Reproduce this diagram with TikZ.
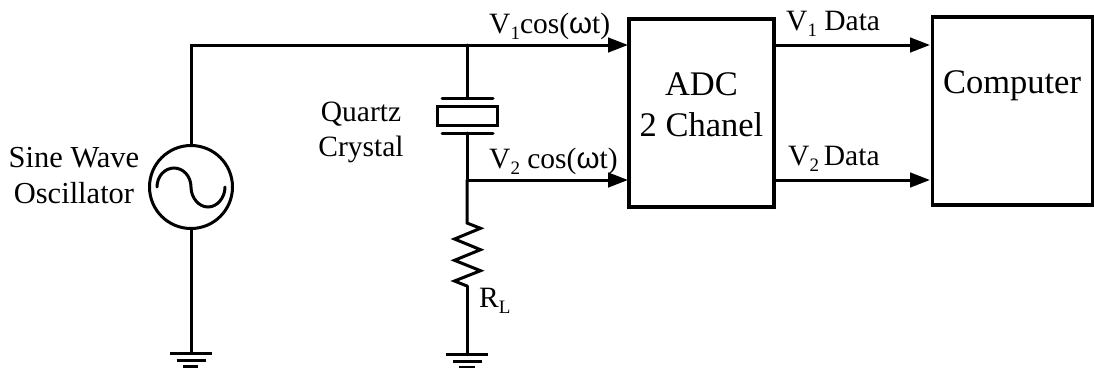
\documentclass[tikz,border=0pt]{standalone}
\usepackage{fontspec}
\setmainfont{Liberation Serif}
\usetikzlibrary{arrows.meta}
\newcommand{\subn}[1]{\raisebox{-0.22em}{\fontsize{19}{19}\selectfont #1}}
\newfontfamily\omegafont{Liberation Sans}
\tikzset{
  wire/.style={line width=3pt,black,line cap=round},
  flow/.style={line width=3pt,black,-{Triangle[length=20pt,width=14.5pt]}},
  blockbox/.style={draw,line width=3.2pt,inner sep=0pt,rectangle},
  lab/.style={inner sep=0pt,anchor=base west,font=\fontsize{29.5}{34}\selectfont},
  mlab/.style={inner sep=0pt,align=center,font=\fontsize{30.5}{36}\selectfont},
  biglab/.style={inner sep=0pt,align=center,font=\fontsize{34.5}{41}\selectfont}
}
\begin{document}
\begin{tikzpicture}[x=1pt,y=-1pt]
\useasboundingbox (0,0) rectangle (1094,367);
% blocks
\node[blockbox,minimum width=145pt,minimum height=188pt] (adc) at (701.5,113) {};
\node[blockbox,minimum width=160pt,minimum height=188pt] (comp) at (1012.5,111) {};
\node[biglab] (adct) at (701.5,105) {ADC\\2 Chanel};
\node[biglab,anchor=base] (compt) at (1012,93) {Computer};
% source
\node[circle,draw,line width=3pt,minimum size=83pt,inner sep=0pt] (src) at (191,187) {};
\draw[wire] (157,187) .. controls (157,176.5) and (164.6,168) .. (174,168) .. controls (183.4,168) and (191,176.5) .. (191,187) .. controls (191,197.5) and (198.6,207) .. (208,207) .. controls (217.4,207) and (225,197.5) .. (225,187);
\node[mlab] (srct) at (74,176) {Sine Wave\\Oscillator};
% crystal
\node[draw,line width=3pt,minimum width=60pt,minimum height=19pt,inner sep=0pt] (xtal) at (467.5,115.5) {};
\coordinate (pt1) at (442,98); \coordinate (pt2) at (493,98);
\coordinate (pb1) at (442,133); \coordinate (pb2) at (493,133);
\coordinate (ptm) at (467,98); \coordinate (pbm) at (467,133);
\draw[wire] (pt1) -- (pt2);
\draw[wire] (pb1) -- (pb2);
\node[inner sep=0pt,align=center,font=\fontsize{29.5}{35}\selectfont] (xtalt) at (361,132.5) {Quartz\\Crystal};
% wires
\coordinate (corner) at (191,45);
\coordinate (j1) at (467,45);
\coordinate (j2) at (467,180);
\coordinate (adc1) at (628,45);
\coordinate (adc2) at (628,180);
\coordinate (o1) at (774,45);
\coordinate (o2) at (774,180);
\coordinate (c1) at (930,45);
\coordinate (c2) at (930,180);
\draw[wire] (src.north) -- (corner) -- (j1);
\draw[flow] (j1) -- (adc1);
\draw[wire] (j1) -- (ptm);
\draw[wire] (pbm) -- (j2);
\draw[flow] (j2) -- (adc2);
\draw[flow] (o1) -- (c1);
\draw[flow] (o2) -- (c2);
% resistor
\coordinate (r0) at (467,223);
\coordinate (r1) at (467,286);
\draw[wire,line join=miter] (j2) -- (r0) -- (480.5,228.3) -- (454.5,239) -- (480.5,249.7) -- (454.5,260.3) -- (480.5,270.7) -- (454.5,281) -- (r1);
% grounds
\coordinate (g1) at (191,353.5);
\coordinate (g2) at (467,354.5);
\draw[wire] (src.south) -- (g1);
\draw[wire] (r1) -- (g2);
\draw[line width=3pt] (170,353.5) -- (212,353.5) (176.5,360) -- (205.5,360) (183,366.5) -- (198,366.5);
\draw[line width=3pt] (446,354.5) -- (488,354.5) (453,361) -- (482,361) (459,367) -- (475,367);
% labels
\node[lab] (v1) at (489,33) {V\subn{1}cos({\omegafont ω}t)};
\node[lab] (v2) at (489,168) {V\subn{2} cos({\omegafont ω}t)};
\node[lab] (d1) at (786,30) {V\subn{1} Data};
\node[lab] (d2) at (788,165) {V\subn{2}\,Data};
\node[lab] (rl) at (479,307) {R\subn{L}};
\end{tikzpicture}
\end{document}
